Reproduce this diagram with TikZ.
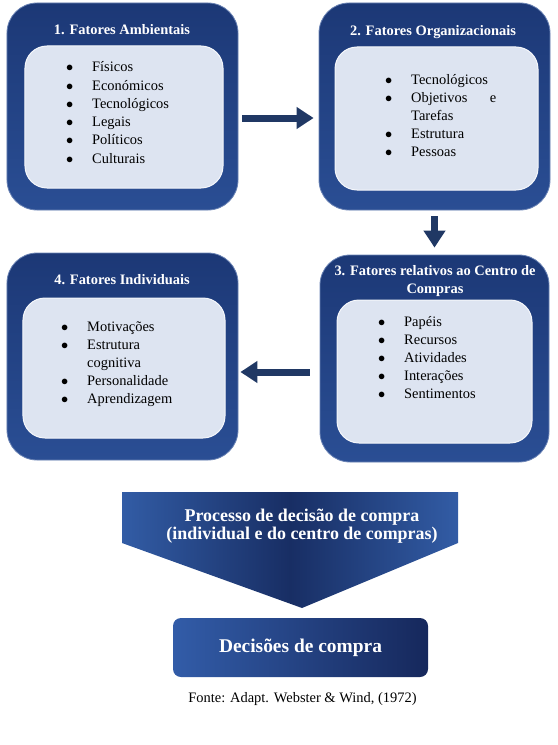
\documentclass[tikz,border=0pt]{standalone}
\usepackage{fontspec}
\setmainfont{Liberation Serif}
\usetikzlibrary{arrows.meta,calc}
\definecolor{navy}{RGB}{28,56,118}
\definecolor{navylight}{RGB}{42,78,148}
\definecolor{innerfill}{RGB}{221,228,241}
\definecolor{arrowblue}{RGB}{32,56,100}
\definecolor{chevside}{RGB}{50,92,165}
\definecolor{chevdark}{RGB}{24,46,100}
\definecolor{decleft}{RGB}{50,92,168}
\definecolor{decright}{RGB}{22,40,92}
\newcommand{\blt}{$\bullet$}
\begin{document}
\begin{tikzpicture}[x=1bp,y=-1bp,
  outerbox/.style={rounded corners=30bp, minimum width=231bp, minimum height=207bp, inner sep=0pt,
    top color=navy, bottom color=navylight, draw=navylight!70!white, line width=0.8bp},
  innerbox/.style={rounded corners=22bp, fill=innerfill, draw=white!70!innerfill, line width=1bp, inner sep=0pt},
  boxtitle/.style={text=white, font=\fontsize{14.5}{18}\selectfont\bfseries, align=center, inner sep=0pt},
  items/.style={anchor=base west, inner sep=0pt, font=\fontsize{14.5}{18.3}\selectfont},
  bigarrow/.style={draw=arrowblue, line width=7bp, -{Triangle[length=17bp,width=21bp]}},
  mainlabel/.style={text=white, font=\fontsize{18}{18.5}\selectfont\bfseries, align=center, inner sep=0pt}
]
\useasboundingbox (0,0) rectangle (558,745);

% Box 1
\node[outerbox] (b1) at (122.5,106.5) {};
\node[innerbox, minimum width=198bp, minimum height=142bp] (i1) at (124,117) {};
\node[boxtitle] (t1) at (122,30) {1. Fatores Ambientais};
\node[items] (l1) at (66,72) {\begin{tabular}[t]{@{}p{26bp}@{}l@{}}
\blt & Físicos\\
\blt & Económicos\\
\blt & Tecnológicos\\
\blt & Legais\\
\blt & Políticos\\
\blt & Culturais
\end{tabular}};

% Box 2
\node[outerbox] (b2) at (434.5,106.5) {};
\node[innerbox, minimum width=203bp, minimum height=143bp] (i2) at (436.5,118.5) {};
\node[boxtitle] (t2) at (433,32) {2. Fatores Organizacionais};
\node[items] (l2) at (385,84) {\begin{tabular}[t]{@{}p{26bp}@{}l@{}}
\blt & Tecnológicos\\
\blt & \hbox to 85bp{Objetivos\hfill e}\\
  & Tarefas\\
\blt & Estrutura\\
\blt & Pessoas
\end{tabular}};

% Box 3
\node[outerbox, minimum width=229bp] (b3) at (434.5,358.5) {};
\node[innerbox, minimum width=195bp, minimum height=143bp] (i3) at (434.5,371.5) {};
\node[boxtitle] (t3) at (435,281) {3. Fatores relativos ao Centro de\\Compras};
\node[items] (l3) at (378,326) {\begin{tabular}[t]{@{}p{26bp}@{}l@{}}
\blt & Papéis\\
\blt & Recursos\\
\blt & Atividades\\
\blt & Interações\\
\blt & Sentimentos
\end{tabular}};

% Box 4
\node[outerbox] (b4) at (122.5,356.5) {};
\node[innerbox, minimum width=202bp, minimum height=140bp] (i4) at (124,368) {};
\node[boxtitle] (t4) at (122,280) {4. Fatores Individuais};
\node[items] (l4) at (61,331) {\begin{tabular}[t]{@{}p{26bp}@{}l@{}}
\blt & Motivações\\
\blt & Estrutura\\
  & cognitiva\\
\blt & Personalidade\\
\blt & Aprendizagem
\end{tabular}};

% Arrows between boxes
\draw[bigarrow] ($(b1.east)+(4,11.5)$) -- ($(b2.west)+(-5,11.5)$);
\draw[bigarrow] ($(b2.south)+(0,6)$) -- ($(b3.north)+(0,-7)$);
\draw[bigarrow] ($(b3.west)+(-10,13.5)$) -- ($(b4.east)+(2,15.5)$);

% Chevron
\shade[left color=chevside, right color=chevside, middle color=chevdark]
  (122,492) -- (458,492) -- (458,543) -- (302,608) -- (122,543) -- cycle;
\node[mainlabel] (proc) at (302,526) {Processo de decisão de compra\\(individual e do centro de compras)};

% Decisions box
\node[rounded corners=8bp, minimum width=255bp, minimum height=59bp, inner sep=0pt,
  left color=decleft, right color=decright, text=white,
  font=\fontsize{19.5}{20}\selectfont\bfseries] (dec) at (300.5,647.5) {Decisões de compra};

% Source
\node[inner sep=0pt, font=\fontsize{14.5}{17}\selectfont] (src) at (302.5,699) {Fonte: Adapt. Webster \& Wind, (1972)};
\end{tikzpicture}
\end{document}
